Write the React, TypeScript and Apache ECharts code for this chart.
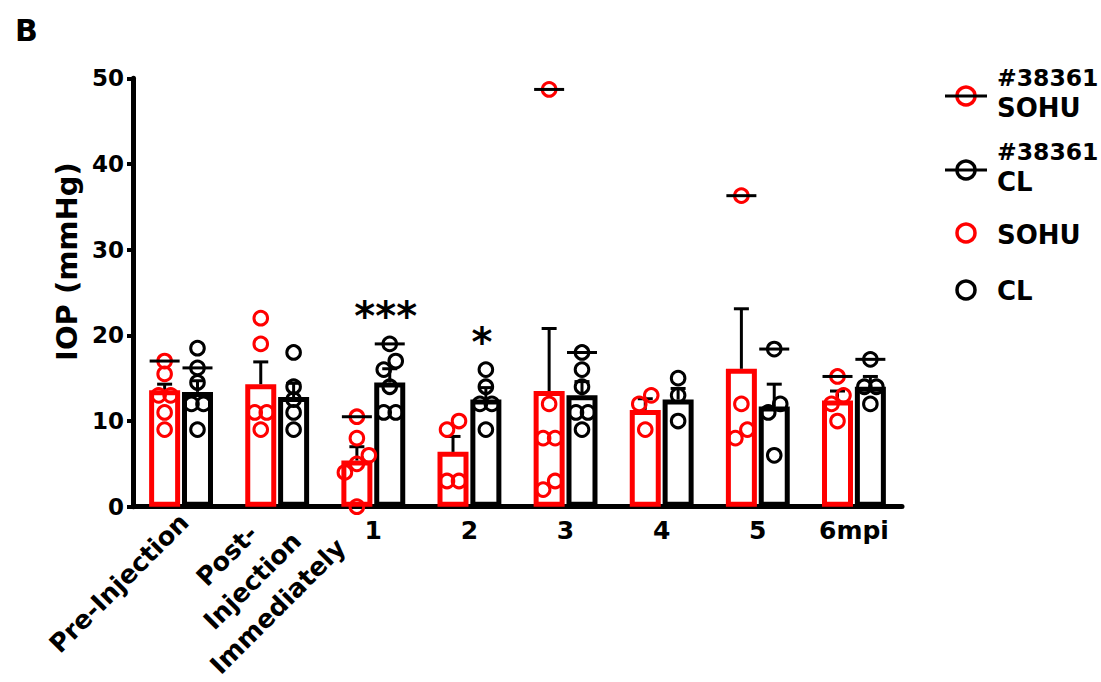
import React, { useEffect, useRef } from 'react';
import * as echarts from 'echarts';

const categories = ['Pre-Injection', 'Post-\nInjection\nImmediately', '1', '2', '3', '4', '5', '6mpi'];
const yTicks = [0, 10, 20, 30, 40, 50];

const sohuMean = [13.6, 14.3, 5.4, 6.4, 13.5, 11.3, 16.1, 12.4];
const sohuSem = [0.7, 2.6, 1.6, 1.8, 7.3, 1.3, 7.0, 1.1];
const clMean = [13.4, 12.8, 14.5, 12.5, 13.0, 12.5, 11.7, 14.0];
const clSem = [1.3, 1.6, 1.6, 1.4, 1.6, 1.3, 2.6, 1.2];

const sohuPoints = [
  [15.5, 13, 13, 11, 9],
  [22, 19, 11, 11, 9],
  [8, 6, 5, 4, 0],
  [10, 9, 3, 3],
  [12, 8, 8, 3, 2],
  [13, 12, 9],
  [12, 9, 8],
  [13, 12, 10],
];
const clPoints = [
  [18.5, 14.5, 12, 12, 9],
  [18, 14, 12.5, 11, 9],
  [17, 16, 14, 11, 11],
  [16, 14, 12, 12, 9],
  [16, 14, 11, 11, 9],
  [15, 13, 10],
  [12, 11, 6],
  [14, 14, 12],
];
const sohu38361 = [17, null, 10.5, null, 48.7, null, 36.3, 15.2];
const cl38361 = [16.2, null, 19, null, 18, null, 18.4, 17.2];
const significance = ['', '', '***', '*', '', '', '', ''];

const RED = '#ff0000';
const BLACK = '#000000';
const FONT = '"DejaVu Sans", "Liberation Sans", Arial, sans-serif';
const BAR_W = 31;
const BAR_GAP = 0.06;
const BAR_OFFSET = (BAR_W + BAR_W * BAR_GAP) / 2;
const JITTER_STEP = 12;

function jitter(values: number[]): number[] {
  const order = values.map((_, i) => i).sort((a, b) => values[a] - values[b]);
  const offs = new Array(values.length).fill(0);
  let cluster: number[] = [];
  const flush = () => {
    const n = cluster.length;
    cluster.forEach((id, k) => {
      offs[id] = (k - (n - 1) / 2) * JITTER_STEP;
    });
    cluster = [];
  };
  order.forEach((id) => {
    if (cluster.length && values[id] - values[cluster[cluster.length - 1]] > 1.2) flush();
    cluster.push(id);
  });
  flush();
  return offs;
}

function buildPoints(points: number[][], special: (number | null)[]) {
  const out: number[][] = [];
  points.forEach((grp, i) => {
    const vals: number[] = [];
    const flags: number[] = [];
    if (special[i] != null) {
      vals.push(special[i] as number);
      flags.push(1);
    }
    grp.forEach((v) => {
      vals.push(v);
      flags.push(0);
    });
    const offs = jitter(vals);
    vals.forEach((v, k) => out.push([i, v, offs[k], flags[k]]));
  });
  return out;
}

function pointSeries(data: number[][], side: number, color: string) {
  return {
    type: 'custom',
    z: 4,
    clip: false,
    data,
    renderItem: (params: any, api: any) => {
      const i = api.value(0);
      const v = api.value(1);
      const off = api.value(2);
      const hash = api.value(3);
      const p = api.coord([i, v]);
      const cx = p[0] + side * BAR_OFFSET + off;
      const cy = p[1];
      const children: any[] = [
        { type: 'circle', shape: { cx, cy, r: 6.8 }, style: { fill: 'none', stroke: color, lineWidth: 3 } },
      ];
      if (hash) {
        children.push({
          type: 'line',
          shape: { x1: cx - 15, y1: cy, x2: cx + 15, y2: cy },
          style: { stroke: BLACK, lineWidth: 3 },
        });
      }
      return { type: 'group', children };
    },
  };
}

function errorSeries(means: number[], sems: number[], side: number) {
  return {
    type: 'custom',
    z: 3,
    clip: false,
    data: means.map((m, i) => [i, m, sems[i]]),
    renderItem: (params: any, api: any) => {
      const i = api.value(0);
      const m = api.value(1);
      const s = api.value(2);
      const p0 = api.coord([i, m]);
      const p1 = api.coord([i, m + s]);
      const cx = p0[0] + side * BAR_OFFSET;
      return {
        type: 'group',
        children: [
          { type: 'line', shape: { x1: cx, y1: p0[1], x2: cx, y2: p1[1] }, style: { stroke: BLACK, lineWidth: 3 } },
          { type: 'line', shape: { x1: cx - 7.5, y1: p1[1], x2: cx + 7.5, y2: p1[1] }, style: { stroke: BLACK, lineWidth: 3 } },
        ],
      };
    },
  };
}

const App: React.FC = () => {
  const ref = useRef<HTMLDivElement>(null);

  useEffect(() => {
    if (!ref.current) return;
    const chart = echarts.init(ref.current, undefined, { renderer: 'svg' });

    const starData: number[][] = [];
    significance.forEach((s, i) => {
      if (!s) return;
      const all = clPoints[i].slice();
      if (cl38361[i] != null) all.push(cl38361[i] as number);
      starData.push([i, Math.max(...all), i]);
    });

    const option: any = {
      animation: false,
      backgroundColor: '#ffffff',
      textStyle: { fontFamily: FONT },
      title: {
        text: 'B',
        left: 10,
        top: 10,
        textStyle: { fontFamily: FONT, fontWeight: 'bold', fontSize: 30, color: BLACK },
      },
      grid: { left: 133, right: 199, top: 78.3, bottom: 175.3, containLabel: false },
      xAxis: {
        type: 'category',
        data: categories,
        axisLine: { lineStyle: { color: BLACK, width: 5 } },
        axisTick: { show: false },
        axisLabel: {
          interval: 0,
          margin: 11,
          color: BLACK,
          fontFamily: FONT,
          fontWeight: 'bold',
          fontSize: 25,
          formatter: (v: string, i: number) => (i >= 2 ? v : ''),
        },
      },
      yAxis: {
        type: 'value',
        min: yTicks[0],
        max: yTicks[yTicks.length - 1],
        interval: yTicks[1] - yTicks[0],
        name: 'IOP (mmHg)',
        nameLocation: 'middle',
        nameGap: 46,
        nameTextStyle: {
          fontFamily: FONT,
          fontWeight: 'bold',
          fontSize: 29,
          color: BLACK,
          padding: [0, 0, 0, 62],
        },
        splitLine: { show: false },
        axisLine: { show: true, lineStyle: { color: BLACK, width: 5 } },
        axisTick: { show: true, length: 6, lineStyle: { color: BLACK, width: 4 } },
        axisLabel: { margin: 9, color: BLACK, fontFamily: FONT, fontWeight: 'bold', fontSize: 23 },
      },
      series: [
        {
          type: 'bar',
          name: 'SOHU',
          data: sohuMean,
          barWidth: BAR_W,
          barGap: `${BAR_GAP * 100}%`,
          z: 2,
          itemStyle: { color: 'rgba(0,0,0,0)', borderColor: RED, borderWidth: 5 },
        },
        {
          type: 'bar',
          name: 'CL',
          data: clMean,
          barWidth: BAR_W,
          barGap: `${BAR_GAP * 100}%`,
          z: 2,
          itemStyle: { color: 'rgba(0,0,0,0)', borderColor: BLACK, borderWidth: 5 },
        },
        errorSeries(sohuMean, sohuSem, -1),
        errorSeries(clMean, clSem, 1),
        pointSeries(buildPoints(sohuPoints, sohu38361), -1, RED),
        pointSeries(buildPoints(clPoints, cl38361), 1, BLACK),
        {
          type: 'custom',
          z: 5,
          clip: false,
          data: starData,
          renderItem: (params: any, api: any) => {
            const i = api.value(0);
            const v = api.value(1);
            const idx = api.value(2);
            const p = api.coord([i, v]);
            return {
              type: 'text',
              style: {
                text: significance[idx],
                x: p[0] + BAR_OFFSET - 4,
                y: p[1] - 8,
                align: 'center',
                verticalAlign: 'bottom',
                fontFamily: FONT,
                fontWeight: 'bold',
                fontSize: 40,
                fill: BLACK,
              },
            };
          },
        },
      ],
    };
    chart.setOption(option);

    const px0 = chart.convertToPixel({ xAxisIndex: 0 }, 0) as number;
    const px1 = chart.convertToPixel({ xAxisIndex: 0 }, 1) as number;
    const axisY = chart.convertToPixel({ yAxisIndex: 0 }, 0) as number;
    const labelFont = { fontFamily: FONT, fontWeight: 'bold', fontSize: 25.5, fill: BLACK };
    const legendRich = {
      a: { fontFamily: FONT, fontWeight: 'bold', fontSize: 23.5, fill: BLACK, lineHeight: 30 },
      b: { fontFamily: FONT, fontWeight: 'bold', fontSize: 26, fill: BLACK, lineHeight: 30 },
    };

    const legendItems = [
      { name: '{a|#38361}\n{b|SOHU}', color: RED, bar: true, cy: 96, ty: 93 },
      { name: '{a|#38361}\n{b|CL}', color: BLACK, bar: true, cy: 170, ty: 167 },
      { name: '{b|SOHU}', color: RED, bar: false, cy: 233, ty: 235 },
      { name: '{b|CL}', color: BLACK, bar: false, cy: 290, ty: 291 },
    ];
    const graphics: any[] = [
      {
        type: 'text',
        x: px0 + 3,
        y: axisY + 11,
        rotation: Math.PI / 4,
        style: { ...labelFont, text: categories[0], align: 'right', verticalAlign: 'middle' },
      },
      {
        type: 'text',
        x: px1 - 25,
        y: axisY + 74,
        rotation: Math.PI / 4,
        style: { ...labelFont, text: categories[1], align: 'center', verticalAlign: 'middle', lineHeight: 36 },
      },
    ];
    legendItems.forEach((it) => {
      const cx = 966;
      graphics.push({
        type: 'circle',
        shape: { cx, cy: it.cy, r: 9 },
        style: { fill: 'none', stroke: it.color, lineWidth: 3.5 },
      });
      if (it.bar) {
        graphics.push({
          type: 'line',
          shape: { x1: cx - 21, y1: it.cy, x2: cx + 21, y2: it.cy },
          style: { stroke: BLACK, lineWidth: 3 },
        });
      }
      graphics.push({
        type: 'text',
        x: 997,
        y: it.ty,
        style: { text: it.name, rich: legendRich, align: 'left', verticalAlign: 'middle' },
      });
    });
    chart.setOption({ graphic: graphics });

    return () => chart.dispose();
  }, []);

  return (
    <div
      ref={ref}
      style={{ position: 'absolute', left: 0, top: 0, width: 1101, height: 682, background: '#fff' }}
    />
  );
};

export default App;
